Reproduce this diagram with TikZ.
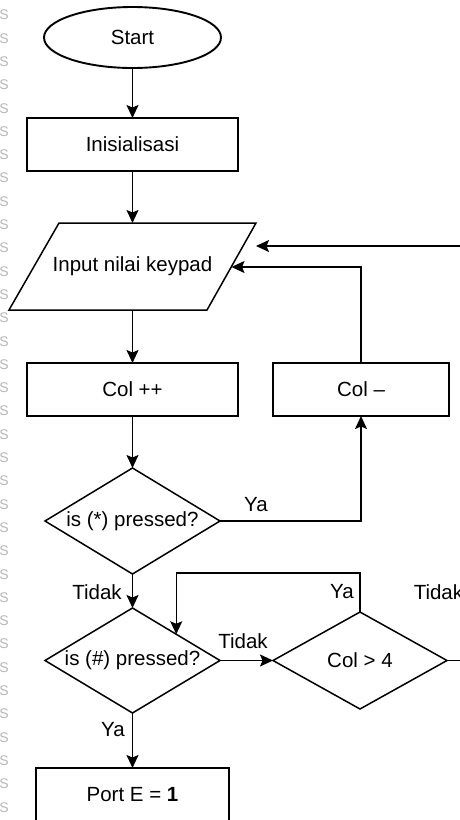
\documentclass[tikz,border=0pt]{standalone}
\usepackage{fontspec}
\setmainfont{Liberation Sans}
\usetikzlibrary{shapes.geometric,arrows.meta}
\begin{document}
\begin{tikzpicture}[x=1pt,y=-1pt,line width=1.5pt,
  every node/.style={font=\fontsize{20.5}{24}\selectfont},
  box/.style={draw,rectangle,minimum height=53,inner sep=0,outer sep=0},
  dia/.style={draw,diamond,inner sep=0,outer sep=0},
  arr/.style={-{Stealth[length=13pt,width=12pt,inset=2.5pt]}},
  lbl/.style={inner sep=0},
  faint/.style={text=black!28,inner sep=0,font=\fontsize{14}{14}\selectfont}]
\useasboundingbox (0,0) rectangle (460,820);
\clip (0,0) rectangle (460,820);
\fill[white] (0,0) rectangle (460,820);
% faint margin marks
\foreach \i in {0,...,34}
  \node[faint,anchor=west] (m\i) at (-1.5,15+23.3*\i) {S};
% nodes
\node[draw,ellipse,minimum width=177,minimum height=61,inner sep=0,outer sep=0,line width=1.9pt] (start) at (132.5,37.5) {Start};
\node[box,minimum width=211] (init) at (132.5,144.5) {Inisialisasi};
\draw (59,223) -- (256,223) -- (207,310) -- (9,310) -- cycle;
\node[lbl] (input) at (132.5,266.5) {Input nilai keypad};
\coordinate (inTop) at (132.5,223);
\coordinate (inBot) at (132.5,310);
\coordinate (inR1) at (256,246);
\coordinate (inR2) at (231.5,267);
\coordinate (edgeIn) at (475,246);
\node[box,minimum width=211] (colpp) at (132.5,389.5) {Col ++};
\node[box,minimum width=176] (colmm) at (361,389.5) {Col –};
\node[dia,minimum width=175,minimum height=106] (d1) at (132.5,521) {\makebox[0pt]{is (*) pressed?}};
\node[dia,minimum width=175,minimum height=105] (d2) at (132.5,660.5) {\makebox[0pt]{is (\#) pressed?}};
\node[dia,minimum width=174,minimum height=97] (d3) at (360,660.5) {\makebox[0pt]{Col > 4}};
\coordinate (edgeOut) at (475,660.5);
\node[box,minimum width=193] (port) at (132.5,794.5) {Port E = \textbf{1}};
% connectors
\draw[arr] (start.south) -- (init.north);
\draw[arr] (init.south) -- (inTop);
\draw[arr] (inBot) -- (colpp.north);
\draw[arr] (colpp.south) -- (d1.north);
\draw[arr] (d1.east) -| (colmm.south);
\draw[arr] (colmm.north) |- (inR2);
\draw[arr] (edgeIn) -- (inR1);
\draw[arr] (d1.south) -- (d2.north);
\draw[arr] (d2.east) -- (d3.west);
\draw[arr] (d3.north) -- (d3.north |- 0,573) -| (d2.north east);
\draw (d3.east) -- (edgeOut);
\draw[arr] (d2.south) -- (port.north);
% labels
\node[lbl] (l1) at (256,505) {Ya};
\node[lbl] (l2) at (97,592) {Tidak};
\node[lbl] (l3) at (342,592) {Ya};
\node[lbl,anchor=west] (l4) at (413,592) {Tidak};
\node[lbl] (l5) at (243,641) {Tidak};
\node[lbl] (l6) at (113,730) {Ya};
\end{tikzpicture}
\end{document}
